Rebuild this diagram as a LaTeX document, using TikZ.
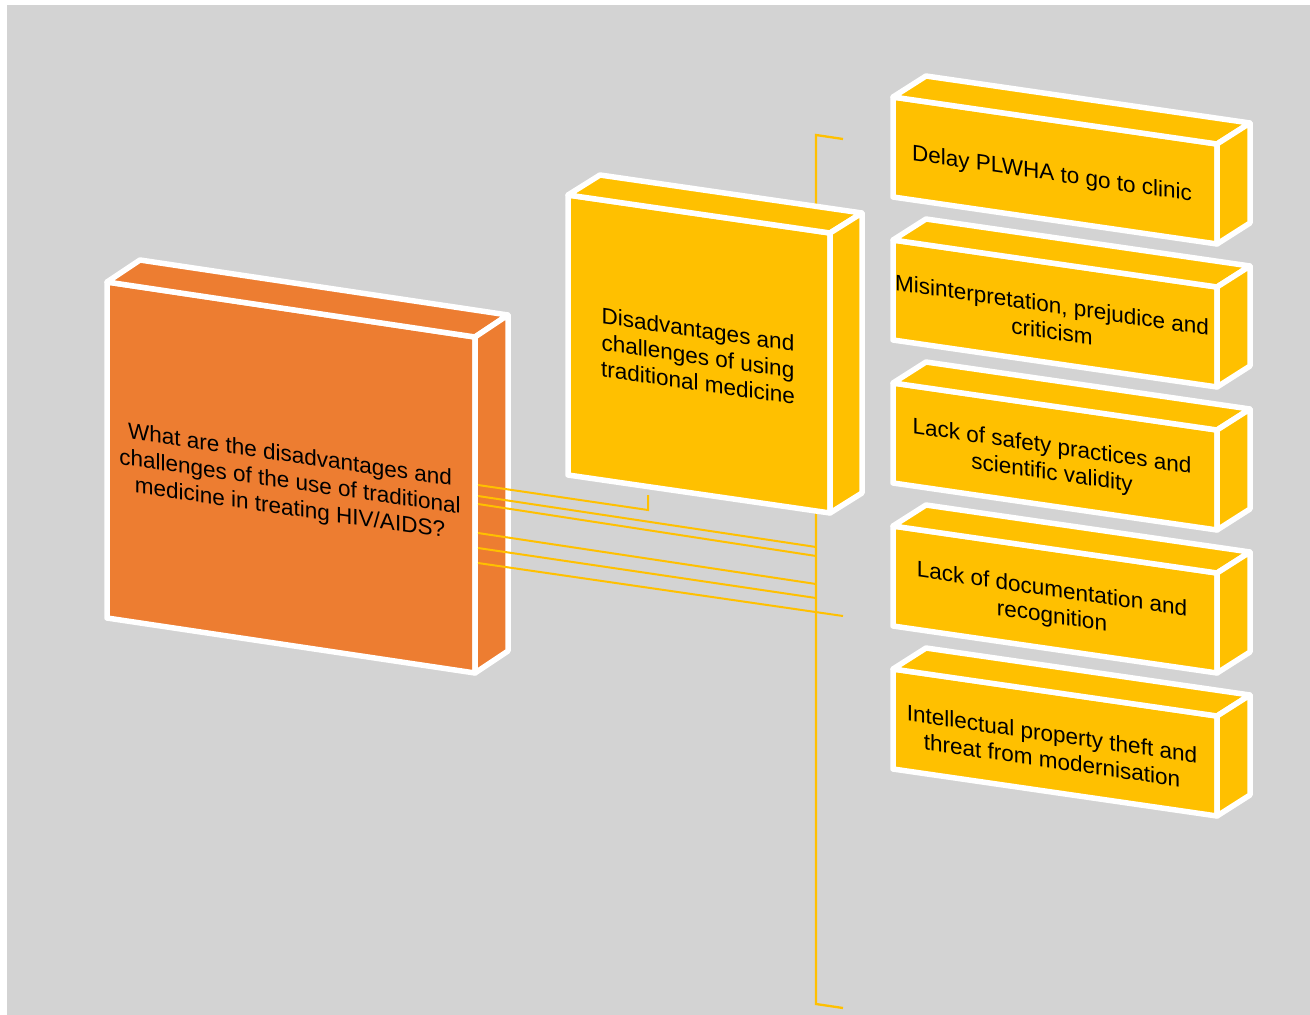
\documentclass[tikz,border=0pt]{standalone}
\usepackage{fontspec}
\setmainfont{Liberation Sans}
\definecolor{canvas}{HTML}{D3D3D3}
\definecolor{orangeface}{HTML}{ED7D31}
\definecolor{goldface}{HTML}{FFC000}

% Cuboid seen in oblique view: front face, top face and right side face.
% #1 name, #2 x, #3 y (top-left of front face), #4 width, #5 height,
% #6 drop of the top edge over the width, #7/#8 depth offset, #9 fill colour
\newcommand{\cuboid}[9]{%
  \coordinate (#1-a) at (#2,#3);
  \coordinate (#1-b) at ({#2+#4},{#3+#6});
  \coordinate (#1-c) at ({#2+#4},{#3+#6+#5});
  \coordinate (#1-d) at (#2,{#3+#5});
  \coordinate (#1-e) at ({#2+#7},{#3+#8});
  \coordinate (#1-f) at ({#2+#4+#7},{#3+#6+#8});
  \coordinate (#1-g) at ({#2+#4+#7},{#3+#6+#5+#8});
  \filldraw[boxedge,fill=#9] (#1-a) -- (#1-b) -- (#1-c) -- (#1-d) -- cycle;
  \filldraw[boxedge,fill=#9] (#1-a) -- (#1-e) -- (#1-f) -- (#1-b) -- cycle;
  \filldraw[boxedge,fill=#9] (#1-b) -- (#1-f) -- (#1-g) -- (#1-c) -- cycle;
}

\tikzset{
  boxedge/.style={draw=white, line width=5.5pt, line join=round},
  link/.style={draw=goldface, line width=2pt},
  spine/.style={draw=goldface, line width=2.3pt},
  facetext/.style={align=center, text=black, inner sep=0pt,
    font=\fontsize{22.5}{26.5}\selectfont, yslant=-0.145},
}

\begin{document}
\begin{tikzpicture}[x=1pt,y=-1pt]
  \useasboundingbox (0,0) rectangle (1310,1015);
  \fill[white] (0,0) rectangle (1310,1015);
  \fill[canvas] (7,5) rectangle (1310,1015);

  % bracket collecting the branches
  \coordinate (spine-top) at (816,135);
  \coordinate (spine-bot) at (816,1004);
  \coordinate (tick-top) at (843,139);
  \coordinate (tick-bot) at (843,1008);
  \draw[spine, line join=miter] (tick-top) -- (spine-top) -- (spine-bot) -- (tick-bot);

  % boxes
  \cuboid{mid}{568}{195}{262}{280}{38}{32}{-20}{goldface}
  \cuboid{main}{107}{282}{368}{336}{55}{33}{-22}{orangeface}
  \cuboid{r1}{893}{97}{324}{100}{47}{33}{-21}{goldface}
  \cuboid{r2}{893}{240}{324}{100}{47}{33}{-21}{goldface}
  \cuboid{r3}{893}{383}{324}{100}{47}{33}{-21}{goldface}
  \cuboid{r4}{893}{526}{324}{100}{47}{33}{-21}{goldface}
  \cuboid{r5}{893}{669}{324}{100}{47}{33}{-21}{goldface}

  % connectors leaving the side of the main box
  \coordinate (m1) at (478,485);
  \coordinate (m2) at (478,496);
  \coordinate (m3) at (478,504);
  \coordinate (m4) at (478,533);
  \coordinate (m5) at (478,548);
  \coordinate (m6) at (478,563);
  \coordinate (k1) at (648,510);
  \coordinate (k1up) at (648,495);
  \coordinate (p2) at (816,547);
  \coordinate (p3) at (816,556);
  \coordinate (p4) at (816,584);
  \coordinate (p5) at (816,598);
  \coordinate (p6) at (843,616);
  \draw[link, line join=miter] (m1) -- (k1) -- (k1up);
  \draw[link] (m2) -- (p2);
  \draw[link] (m3) -- (p3);
  \draw[link] (m4) -- (p4);
  \draw[link] (m5) -- (p5);
  \draw[link] (m6) -- (p6);

  % labels
  \node[facetext] (qtext) at (290,483)
    {What are the disadvantages and\\challenges of the use of traditional\\medicine in treating HIV/AIDS?};
  \node[facetext] (midtext) at (698,356)
    {Disadvantages and\\challenges of using\\traditional medicine};
  \node[facetext] (t1) at (1052,175) {Delay PLWHA to go to clinic};
  \node[facetext] (t2) at (1052,318) {Misinterpretation, prejudice and\\criticism};
  \node[facetext] (t3) at (1052,461) {Lack of safety practices and\\scientific validity};
  \node[facetext] (t4) at (1052,604) {Lack of documentation and\\recognition};
  \node[facetext] (t5) at (1052,747) {Intellectual property theft and\\threat from modernisation};
\end{tikzpicture}
\end{document}
